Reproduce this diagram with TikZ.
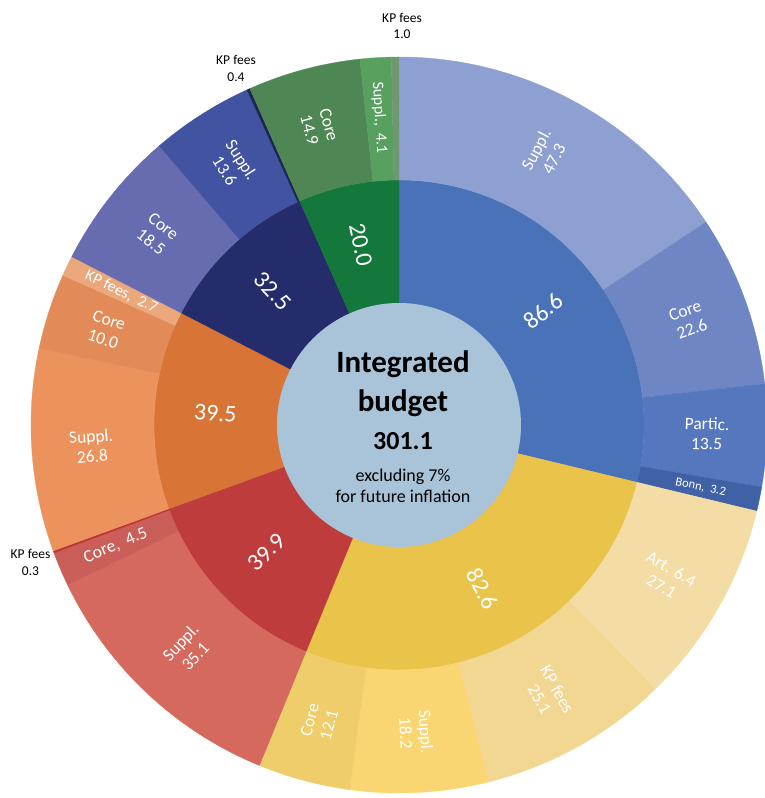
\documentclass[tikz,border=0pt]{standalone}
\usepackage{fontspec}
\setmainfont{Carlito}
\definecolor{cBlue}{HTML}{4A72B9}
\definecolor{cBlueA}{HTML}{8EA0D2}
\definecolor{cBlueB}{HTML}{6E86C4}
\definecolor{cBlueC}{HTML}{5577BE}
\definecolor{cBlueD}{HTML}{3F62A7}
\definecolor{cYel}{HTML}{EAC34A}
\definecolor{cYelA}{HTML}{F3DDA5}
\definecolor{cYelB}{HTML}{F2D793}
\definecolor{cYelC}{HTML}{F9D672}
\definecolor{cYelD}{HTML}{EFCD6A}
\definecolor{cRed}{HTML}{BF3C3D}
\definecolor{cRedA}{HTML}{D6695D}
\definecolor{cRedB}{HTML}{CA5E58}
\definecolor{cRedC}{HTML}{C03535}
\definecolor{cOra}{HTML}{D87436}
\definecolor{cOraA}{HTML}{EB925D}
\definecolor{cOraB}{HTML}{E38B58}
\definecolor{cOraC}{HTML}{EBA87C}
\definecolor{cNav}{HTML}{242C6B}
\definecolor{cNavA}{HTML}{676BB0}
\definecolor{cNavB}{HTML}{4253A1}
\definecolor{cNavC}{HTML}{1D2456}
\definecolor{cGre}{HTML}{14773C}
\definecolor{cGreA}{HTML}{4E8654}
\definecolor{cGreB}{HTML}{57A05F}
\definecolor{cGreC}{HTML}{6F9870}
\definecolor{cHub}{HTML}{A9C4D8}
\newcommand\sbseg[5]{\fill[#1,draw=#1,line width=0.3pt] (#2:#4) arc[start angle=#2, end angle=#3, radius=#4] -- (#3:#5) arc[start angle=#3, end angle=#2, radius=#5] -- cycle;}
\tikzset{
  lab/.style={text=white, align=center, inner sep=0pt, font=\fontsize{17.5}{20}\selectfont},
  labsm/.style={text=white, align=center, inner sep=0pt, font=\fontsize{16}{18}\selectfont},
  labxs/.style={text=white, align=center, inner sep=0pt, font=\fontsize{12.5}{14}\selectfont},
  mlab/.style={text=white, align=center, inner sep=0pt, font=\fontsize{24}{26}\selectfont},
  olab/.style={text=black, align=center, inner sep=0pt, anchor=base, font=\fontsize{13.5}{15}\selectfont},
  hublab/.style={text=black, inner sep=0pt, anchor=base}
}
\begin{document}
\begin{tikzpicture}
\fill[white] (-399pt,-373pt) rectangle (366pt,425pt);
\useasboundingbox (-399pt,-373pt) rectangle (366pt,425pt);
% middle ring
\sbseg{cBlue}{90}{-13.540}{120pt}{245pt}
\sbseg{cYel}{-13.540}{-112.298}{120pt}{245pt}
\sbseg{cRed}{-112.298}{-160.003}{120pt}{245pt}
\sbseg{cOra}{-160.003}{-207.230}{120pt}{245pt}
\sbseg{cNav}{-207.230}{-246.088}{120pt}{245pt}
\sbseg{cGre}{-246.088}{-270}{120pt}{245pt}
% outer ring
\sbseg{cBlueA}{90}{33.447}{245pt}{368pt}
\sbseg{cBlueB}{33.447}{6.426}{245pt}{368pt}
\sbseg{cBlueC}{6.426}{-9.715}{245pt}{368pt}
\sbseg{cBlueD}{-9.715}{-13.540}{245pt}{368pt}
\sbseg{cYelA}{-13.540}{-45.941}{245pt}{368pt}
\sbseg{cYelB}{-45.941}{-75.951}{245pt}{368pt}
\sbseg{cYelC}{-75.951}{-97.711}{245pt}{368pt}
\sbseg{cYelD}{-97.711}{-112.298}{245pt}{368pt}
\sbseg{cRedA}{-112.298}{-154.264}{245pt}{368pt}
\sbseg{cRedB}{-154.264}{-159.644}{245pt}{368pt}
\sbseg{cRedC}{-159.644}{-160.003}{245pt}{368pt}
\sbseg{cOraA}{-160.003}{-192.046}{245pt}{368pt}
\sbseg{cOraB}{-192.046}{-204.002}{245pt}{368pt}
\sbseg{cOraC}{-204.002}{-207.230}{245pt}{368pt}
\sbseg{cNavA}{-207.230}{-229.349}{245pt}{368pt}
\sbseg{cNavB}{-229.349}{-245.609}{245pt}{368pt}
\sbseg{cNavC}{-245.609}{-246.088}{245pt}{368pt}
\sbseg{cGreA}{-246.088}{-263.903}{245pt}{368pt}
\sbseg{cGreB}{-263.903}{-268.805}{245pt}{368pt}
\sbseg{cGreC}{-268.805}{-270}{245pt}{368pt}
% hub
\fill[cHub] (0pt,0pt) circle[radius=122pt];
\node[hublab, font=\fontsize{31}{33}\selectfont\bfseries] (h1) at (4pt,52pt) {Integrated};
\node[hublab, font=\fontsize{31}{33}\selectfont\bfseries] (h2) at (4pt,13pt) {budget};
\node[hublab, font=\fontsize{26}{28}\selectfont\bfseries] (h3) at (4pt,-24pt) {301.1};
\node[hublab, font=\fontsize{18}{20}\selectfont] (h4) at (4pt,-56pt) {excluding 7\%};
\node[hublab, font=\fontsize{18}{20}\selectfont] (h5) at (4pt,-77pt) {for future inflation};
% middle labels
\node[mlab, rotate=38.23] (m1) at (38.23:184pt) {86.6};
\node[mlab, rotate=-62.92] (m2) at (-62.92:184pt) {82.6};
\node[mlab, rotate=43.85] (m3) at (-136.15:184pt) {39.9};
\node[mlab, rotate=-3.62] (m4) at (-183.62:184pt) {39.5};
\node[mlab, rotate=-46.66] (m5) at (-226.66:184pt) {32.5};
\node[mlab, rotate=-78.04] (m6) at (-258.04:184pt) {20.0};
% outer labels
\node[lab, rotate=61.72] (o1) at (61.72:308pt) {Suppl.\\47.3};
\node[lab, rotate=19.94] (o2) at (19.94:308pt) {Core\\22.6};
\node[lab, rotate=-1.64] (o3) at (-1.64:308pt) {Partic.\\13.5};
\node[labxs, rotate=-11.63] (o4) at (-11.63:308pt) {Bonn,\hspace{0.45em}3.2};
\node[lab, rotate=-29.74] (o5) at (-29.74:308pt) {Art. 6.4\\27.1};
\node[lab, rotate=-60.95] (o6) at (-60.95:308pt) {KP fees\\25.1};
\node[lab, rotate=-86.83] (o7) at (-86.83:308pt) {Suppl.\\18.2};
\node[lab, rotate=75.0] (o8) at (-105.0:308pt) {Core\\12.1};
\node[lab, rotate=46.72] (o9) at (-133.28:308pt) {Suppl.\\35.1};
\node[lab, rotate=23.05] (o10) at (-156.95:308pt) {Core,\hspace{0.45em}4.5};
\node[lab, rotate=3.98] (o11) at (-176.02:308pt) {Suppl.\\26.8};
\node[lab, rotate=-18.02] (o12) at (-198.02:308pt) {Core\\10.0};
\node[labsm, rotate=-25.62] (o13) at (-205.62:308pt) {KP fees,\hspace{0.45em}2.7};
\node[lab, rotate=-38.29] (o14) at (-218.29:308pt) {Core\\18.5};
\node[lab, rotate=-57.48] (o15) at (-237.48:308pt) {Suppl.\\13.6};
\node[lab, rotate=-75.0] (o16) at (-255.0:308pt) {Core\\14.9};
\node[labsm, rotate=-86.35] (o17) at (-266.35:308pt) {Suppl.,\hspace{0.45em}4.1};
% outside labels
\node[olab] (x1a) at (3pt,402pt) {KP fees};
\node[olab] (x1b) at (3pt,386pt) {1.0};
\node[olab] (x2a) at (-163pt,360pt) {KP fees};
\node[olab] (x2b) at (-163pt,343pt) {0.4};
\node[olab] (x3a) at (-368.5pt,-133pt) {KP fees};
\node[olab] (x3b) at (-368.5pt,-150pt) {0.3};
\end{tikzpicture}
\end{document}
